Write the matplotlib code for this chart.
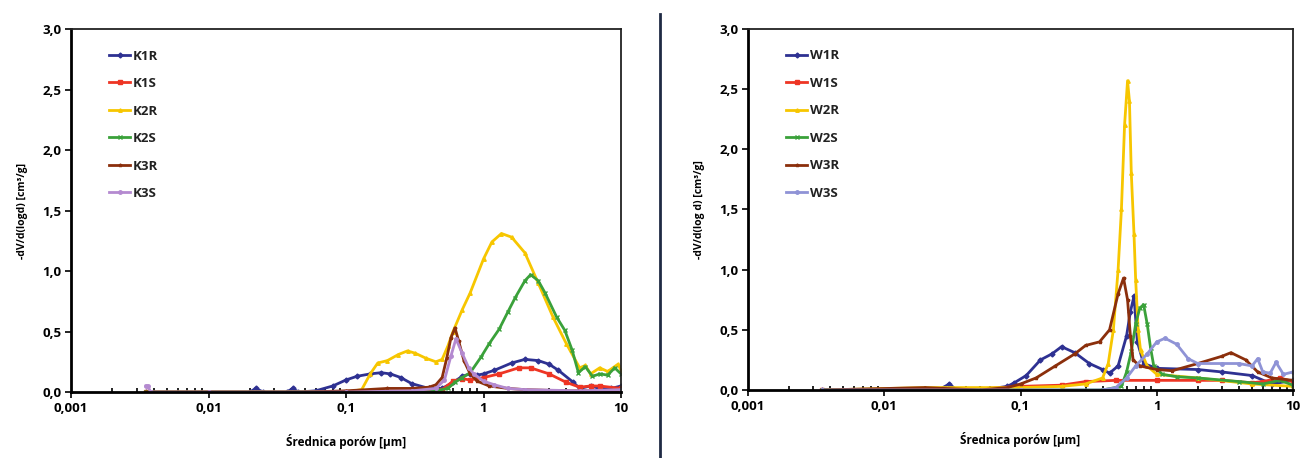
import matplotlib
matplotlib.use('Agg')
import matplotlib.pyplot as plt
from matplotlib.lines import Line2D
from matplotlib.ticker import FixedLocator, FuncFormatter, LogLocator, NullFormatter

plt.rcParams['font.family'] = ['Open Sans', 'DejaVu Sans']
plt.rcParams['font.weight'] = 'bold'

# ---- left panel (K samples) ----
k1r_x = [0.0035, 0.02, 0.022, 0.025, 0.037, 0.041, 0.045, 0.06, 0.08, 0.1, 0.12, 0.15, 0.18, 0.21, 0.25, 0.3, 0.4, 0.5, 0.6, 0.7, 0.8, 0.9, 1.0, 1.2, 1.6, 2.0, 2.5, 3.0, 3.5, 4.5, 5.0, 6.0, 7.0, 8.5, 10.0]
k1r_y = [0.0, 0.0, 0.03, 0.0, 0.0, 0.03, 0.0, 0.01, 0.05, 0.1, 0.13, 0.15, 0.16, 0.15, 0.12, 0.07, 0.03, 0.03, 0.08, 0.13, 0.15, 0.14, 0.15, 0.18, 0.24, 0.27, 0.26, 0.23, 0.18, 0.08, 0.03, 0.05, 0.03, 0.03, 0.05]
k1s_x = [0.0035, 0.1, 0.3, 0.5, 0.6, 0.7, 0.8, 1.0, 1.3, 1.8, 2.2, 3.0, 4.0, 5.0, 6.0, 7.0, 10.0]
k1s_y = [0.0, 0.0, 0.01, 0.02, 0.09, 0.11, 0.1, 0.12, 0.15, 0.2, 0.2, 0.15, 0.08, 0.04, 0.05, 0.05, 0.03]
k2r_x = [0.0035, 0.1, 0.13, 0.15, 0.17, 0.2, 0.24, 0.28, 0.32, 0.38, 0.45, 0.5, 0.55, 0.6, 0.7, 0.8, 1.0, 1.15, 1.35, 1.6, 2.0, 2.5, 3.2, 4.0, 5.0, 5.5, 6.0, 7.0, 8.0, 9.5, 10.0]
k2r_y = [0.0, 0.0, 0.02, 0.15, 0.24, 0.26, 0.31, 0.34, 0.32, 0.28, 0.25, 0.27, 0.38, 0.5, 0.68, 0.82, 1.1, 1.24, 1.31, 1.28, 1.15, 0.9, 0.62, 0.4, 0.2, 0.22, 0.15, 0.2, 0.17, 0.23, 0.18]
k2s_x = [0.0035, 0.4, 0.55, 0.62, 0.7, 0.8, 0.96, 1.1, 1.3, 1.5, 1.7, 2.0, 2.2, 2.5, 2.8, 3.4, 3.9, 4.4, 4.9, 5.5, 6.2, 7.0, 8.0, 9.0, 10.0]
k2s_y = [0.0, 0.0, 0.03, 0.08, 0.12, 0.16, 0.29, 0.4, 0.52, 0.66, 0.78, 0.92, 0.97, 0.92, 0.82, 0.62, 0.51, 0.35, 0.16, 0.21, 0.13, 0.15, 0.14, 0.2, 0.15]
k3r_x = [0.0035, 0.05, 0.1, 0.2, 0.3, 0.4, 0.45, 0.5, 0.54, 0.58, 0.62, 0.66, 0.72, 0.8, 0.9, 1.1, 1.5, 2.0, 4.0, 10.0]
k3r_y = [0.0, 0.0, 0.01, 0.03, 0.03, 0.04, 0.06, 0.12, 0.28, 0.45, 0.53, 0.42, 0.26, 0.15, 0.09, 0.05, 0.03, 0.02, 0.01, 0.01]
k3s_x = [0.0035, 0.0036, 0.0038, 0.01, 0.1, 0.3, 0.45, 0.52, 0.58, 0.63, 0.7, 0.78, 0.85, 1.0, 1.2, 1.5, 2.0, 5.0, 10.0]
k3s_y = [0.05, 0.05, 0.0, 0.0, 0.0, 0.01, 0.03, 0.1, 0.3, 0.44, 0.32, 0.2, 0.15, 0.09, 0.06, 0.03, 0.02, 0.01, 0.02]

# ---- right panel (W samples) ----
w1r_x = [0.0035, 0.025, 0.03, 0.034, 0.06, 0.08, 0.09, 0.11, 0.14, 0.17, 0.2, 0.25, 0.32, 0.4, 0.45, 0.52, 0.6, 0.64, 0.68, 0.72, 0.8, 1.0, 2.0, 3.0, 5.0, 7.0, 10.0]
w1r_y = [0.0, 0.0, 0.05, 0.0, 0.01, 0.03, 0.06, 0.12, 0.25, 0.3, 0.36, 0.31, 0.22, 0.17, 0.14, 0.2, 0.45, 0.65, 0.78, 0.4, 0.22, 0.18, 0.17, 0.15, 0.12, 0.05, 0.08]
w1s_x = [0.0035, 0.05, 0.1, 0.2, 0.3, 0.5, 1.0, 2.0, 3.0, 5.0, 6.0, 8.0, 10.0]
w1s_y = [0.0, 0.01, 0.03, 0.04, 0.07, 0.08, 0.08, 0.08, 0.08, 0.06, 0.07, 0.1, 0.07]
w2r_x = [0.0035, 0.02, 0.1, 0.2, 0.3, 0.4, 0.44, 0.48, 0.52, 0.55, 0.58, 0.61, 0.63, 0.65, 0.68, 0.7, 0.73, 0.76, 0.85, 1.0, 2.0, 5.0, 10.0]
w2r_y = [0.0, 0.02, 0.02, 0.03, 0.05, 0.1, 0.22, 0.5, 1.0, 1.5, 2.2, 2.57, 2.4, 1.8, 1.3, 0.91, 0.5, 0.33, 0.2, 0.13, 0.1, 0.05, 0.03]
w2s_x = [0.0035, 0.4, 0.55, 0.6, 0.65, 0.7, 0.75, 0.8, 0.85, 0.9, 0.95, 1.1, 1.4, 2.0, 4.0, 6.0, 8.0, 10.0]
w2s_y = [0.0, 0.0, 0.03, 0.15, 0.32, 0.55, 0.68, 0.71, 0.55, 0.35, 0.2, 0.13, 0.11, 0.1, 0.07, 0.05, 0.08, 0.04]
w3r_x = [0.0035, 0.02, 0.05, 0.08, 0.1, 0.13, 0.18, 0.25, 0.3, 0.38, 0.45, 0.52, 0.57, 0.61, 0.64, 0.67, 0.75, 1.0, 1.3, 2.0, 3.0, 3.5, 4.5, 5.5, 7.0, 10.0]
w3r_y = [0.0, 0.02, 0.0, 0.02, 0.05, 0.1, 0.2, 0.3, 0.37, 0.4, 0.5, 0.8, 0.93, 0.75, 0.45, 0.25, 0.2, 0.17, 0.16, 0.22, 0.28, 0.31, 0.25, 0.15, 0.1, 0.08]
w3s_x = [0.0035, 0.1, 0.4, 0.5, 0.6, 0.7, 0.85, 1.0, 1.15, 1.4, 1.7, 2.0, 3.0, 4.0, 5.0, 5.5, 6.0, 6.8, 7.5, 8.5, 10.0]
w3s_y = [0.0, 0.0, 0.0, 0.02, 0.1, 0.2, 0.3, 0.4, 0.43, 0.38, 0.26, 0.22, 0.22, 0.22, 0.2, 0.26, 0.15, 0.14, 0.23, 0.13, 0.15]

xticks = [0.001, 0.01, 0.1, 1, 10]
yticks = [0.0, 0.5, 1.0, 1.5, 2.0, 2.5, 3.0]

COLORS = {'1R': '#2e3192', '1S': '#ee3524', '2R': '#f7c600',
          '2S': '#3aa13a', '3R': '#8b2f0c', '3S': '#b48ad0'}
COLORS_W = dict(COLORS, **{'3S': '#8f93d6'})
MARKERS = {'1R': 'D', '1S': 's', '2R': '^', '2S': 'x', '3R': '*', '3S': 'o'}

fig = plt.figure(figsize=(13.11, 4.58), dpi=100)
ax1 = fig.add_axes([0.0542, 0.144, 0.4195, 0.7927])
ax2 = fig.add_axes([0.5706, 0.1485, 0.4157, 0.7882])


def fmt(v, pos):
    return ('%g' % v).replace('.', ',')


def yfmt(v, pos):
    return ('%.1f' % v).replace('.', ',')


def draw(ax, prefix, series, colors, ylabel):
    for key, xs, ys in series:
        ax.plot(xs, ys, color=colors[key], linewidth=2, marker=MARKERS[key],
                markersize=2.5, label=prefix + key)
    ax.set_xscale('log')
    ax.set_xlim(0.001, 10)
    ax.set_ylim(0, 3.0)
    ax.xaxis.set_major_locator(FixedLocator(xticks))
    ax.xaxis.set_major_formatter(FuncFormatter(fmt))
    ax.xaxis.set_minor_locator(LogLocator(base=10, subs=range(2, 10)))
    ax.xaxis.set_minor_formatter(NullFormatter())
    ax.yaxis.set_major_locator(FixedLocator(yticks))
    ax.yaxis.set_major_formatter(FuncFormatter(yfmt))
    ax.tick_params(axis='both', which='major', direction='out', length=4,
                   width=1.2, labelsize=9.5, pad=3)
    ax.tick_params(axis='x', which='minor', direction='in', length=3, width=1.2)
    for sp in ['left', 'bottom']:
        ax.spines[sp].set_linewidth(2)
    for sp in ['top', 'right']:
        ax.spines[sp].set_linewidth(1.3)
        ax.spines[sp].set_color('#222222')
    ax.set_xlabel('Średnica porów [µm]', fontsize=8.5, fontweight='bold', labelpad=14)
    ax.set_ylabel(ylabel, fontsize=7.5, fontweight='bold', labelpad=10)
    leg = ax.legend(loc='upper left', bbox_to_anchor=(0.06, 0.958), frameon=False,
                    fontsize=9.5, handlelength=1.6, handletextpad=0.2,
                    labelspacing=1.1, borderaxespad=0)
    for t in leg.get_texts():
        t.set_fontweight('bold')
        t.set_color('#222222')


draw(ax1, 'K', [('1R', k1r_x, k1r_y), ('1S', k1s_x, k1s_y), ('2R', k2r_x, k2r_y),
                ('2S', k2s_x, k2s_y), ('3R', k3r_x, k3r_y), ('3S', k3s_x, k3s_y)],
     COLORS, '-dV/d(logd) [cm³/g]')
draw(ax2, 'W', [('1R', w1r_x, w1r_y), ('1S', w1s_x, w1s_y), ('2R', w2r_x, w2r_y),
                ('2S', w2s_x, w2s_y), ('3R', w3r_x, w3r_y), ('3S', w3s_x, w3s_y)],
     COLORS_W, '-dV/d(log d) [cm³/g]')

# divider between the panels
fig.add_artist(Line2D([0.5034, 0.5034], [0.0, 0.97], color='#1f2a44', linewidth=2))

fig.savefig('out.png', dpi=100)
